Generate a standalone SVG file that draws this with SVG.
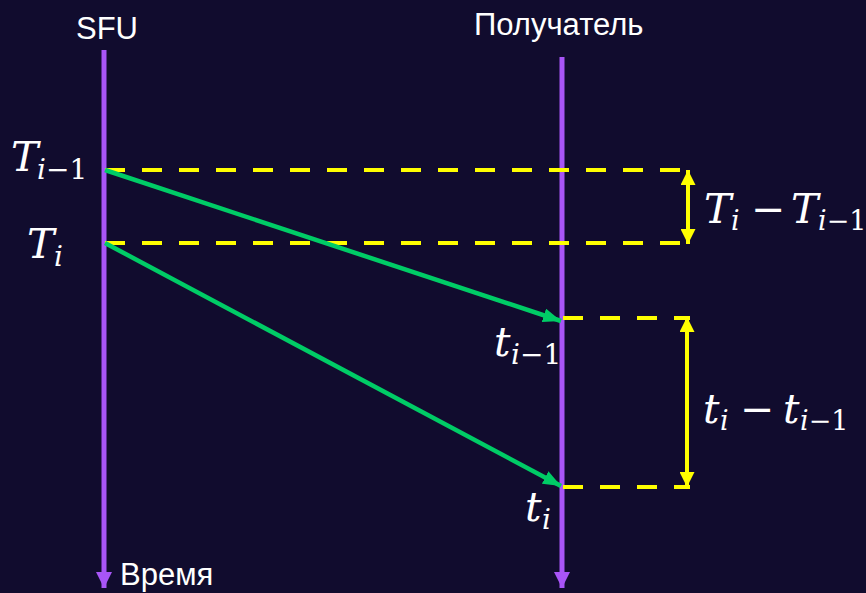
<svg xmlns="http://www.w3.org/2000/svg" width="866" height="593" viewBox="0 0 866 593">
<style>
.lbl{font-family:"Liberation Sans",Arial,sans-serif;font-size:31px;fill:#ffffff}
.m{font-family:"DejaVu Serif","Liberation Serif",serif;font-style:italic;fill:#ffffff}
.u{font-style:normal}
.life{stroke:#a855f7;stroke-width:5;fill:none}
.dash{stroke:#ffff00;stroke-width:4;stroke-dasharray:20 17;fill:none}
.msg{stroke:#00cc66;stroke-width:4.5;fill:none}
.dim{stroke:#ffff00;stroke-width:4;fill:none}
</style>
<defs>
<marker id="ap" markerUnits="userSpaceOnUse" viewBox="0 0 16 16" refX="16" refY="8" markerWidth="16" markerHeight="16" orient="auto"><path d="M0,0 L16,8 L0,16 z" fill="#a855f7"/></marker>
<marker id="ag" markerUnits="userSpaceOnUse" viewBox="0 0 18 14" refX="18" refY="7" markerWidth="18" markerHeight="14" orient="auto"><path d="M0,0 L18,7 L0,14 z" fill="#00cc66"/></marker>
<marker id="ay" markerUnits="userSpaceOnUse" viewBox="0 0 15 15" refX="15" refY="7.5" markerWidth="15" markerHeight="15" orient="auto-start-reverse"><path d="M0,0 L15,7.5 L0,15 z" fill="#ffff00"/></marker>
</defs>
<rect width="866" height="593" fill="#110c2e"/>
<g id="sfu">
<line class="life" x1="104" y1="50" x2="104" y2="588" marker-end="url(#ap)"/>
<text class="lbl" x="76" y="39">SFU</text>
<text class="lbl" x="120" y="585">Время</text>
</g>
<g id="receiver">
<line class="life" x1="562" y1="57" x2="562" y2="588" marker-end="url(#ap)"/>
<text class="lbl" x="474" y="35">Получатель</text>
</g>
<g id="connectors">
<line class="dash" x1="105" y1="170" x2="685" y2="170"/>
<line class="dash" x1="105" y1="243" x2="685" y2="243"/>
<line class="dash" x1="563" y1="318" x2="690" y2="318"/>
<line class="dash" x1="563" y1="487" x2="690" y2="487"/>
<line class="msg" x1="105" y1="170" x2="561" y2="321" marker-end="url(#ag)"/>
<line class="msg" x1="105" y1="243" x2="561" y2="486" marker-end="url(#ag)"/>
<line class="dim" x1="688" y1="170" x2="688" y2="244" marker-start="url(#ay)" marker-end="url(#ay)"/>
<line class="dim" x1="687" y1="317" x2="687" y2="487" marker-start="url(#ay)" marker-end="url(#ay)"/>
</g>
<g id="label-T-im1">
<text class="m" x="11" y="171" font-size="41">T</text>
<text class="m" x="37" y="179" font-size="28">i<tspan class="u">−1</tspan></text>
</g>
<g id="label-T-i">
<text class="m" x="27" y="258" font-size="41">T</text>
<text class="m" x="54" y="266" font-size="28">i</text>
</g>
<g id="label-t-im1">
<text class="m" x="494" y="356" font-size="41">t</text>
<text class="m" x="511" y="364" font-size="28">i<tspan class="u">−1</tspan></text>
</g>
<g id="label-t-i">
<text class="m" x="525" y="521" font-size="41">t</text>
<text class="m" x="542" y="529" font-size="28">i</text>
</g>
<g id="label-T-diff">
<text class="m" x="704" y="223" font-size="41">T</text>
<text class="m" x="731" y="230" font-size="27">i</text>
<text class="m u" x="751" y="223" font-size="41">−</text>
<text class="m" x="791" y="223" font-size="41">T</text>
<text class="m" x="818" y="230" font-size="27">i<tspan class="u">−1</tspan></text>
</g>
<g id="label-t-diff">
<text class="m" x="703" y="423" font-size="41">t</text>
<text class="m" x="720" y="430" font-size="27">i</text>
<text class="m u" x="740" y="423" font-size="41">−</text>
<text class="m" x="783" y="423" font-size="41">t</text>
<text class="m" x="800" y="430" font-size="27">i<tspan class="u">−1</tspan></text>
</g>
</svg>
